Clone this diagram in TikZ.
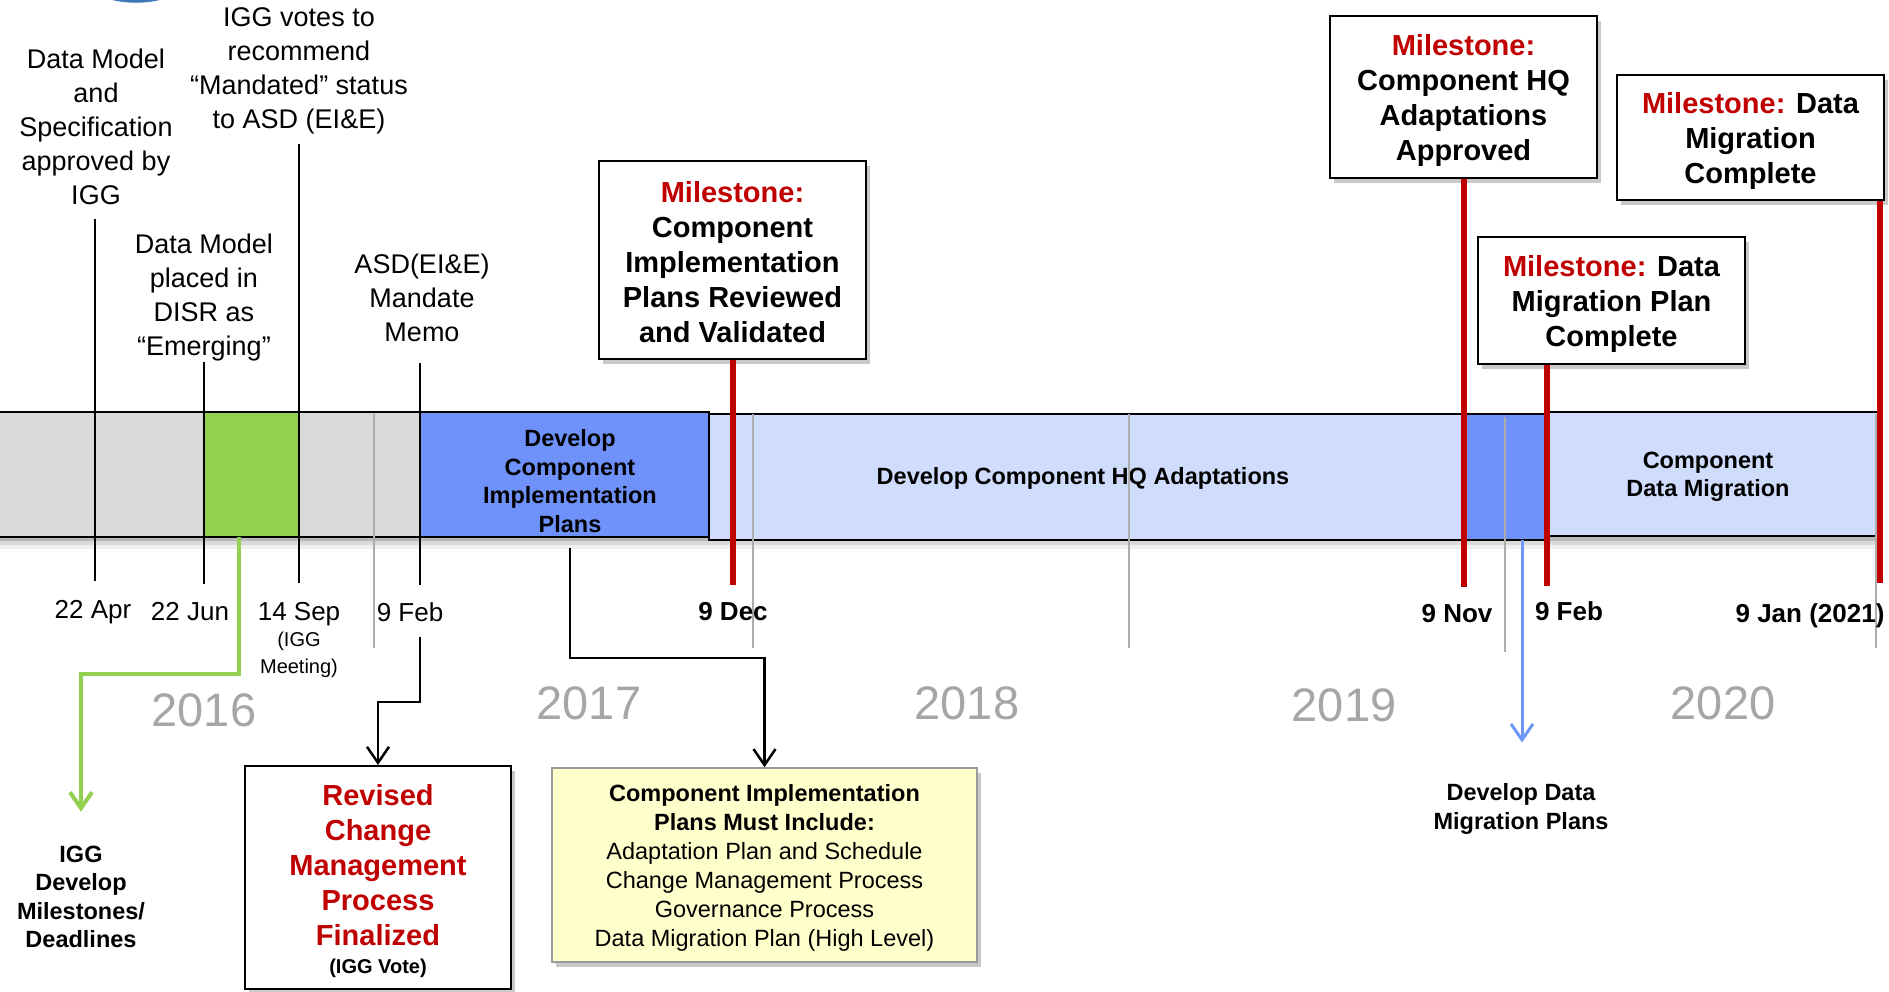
\documentclass[tikz,border=0pt]{standalone}
\usepackage{fontspec}
\setmainfont{Liberation Sans}
\usetikzlibrary{arrows.meta,shadows,calc}
\definecolor{msred}{HTML}{C00000}
\definecolor{barblue}{HTML}{6E91FA}
\definecolor{lightblue}{HTML}{CFDCFB}
\definecolor{greenc}{HTML}{92D050}
\definecolor{grayfill}{HTML}{D9D9D9}
\definecolor{yeargray}{HTML}{A6A6A6}
\definecolor{gridgray}{HTML}{ADADAD}
\definecolor{yelfill}{HTML}{FFFFCC}
\definecolor{yelborder}{HTML}{9A9A9A}
\definecolor{arrowblue}{HTML}{6F96FA}
\definecolor{logoblue}{HTML}{3C78B4}
\begin{document}
\begin{tikzpicture}[x=1pt,y=-1pt,
  toplbl/.style={align=center, inner sep=0pt, font=\fontsize{27}{34}\selectfont},
  datelbl/.style={inner sep=0pt, font=\fontsize{26}{31}\selectfont},
  datebold/.style={inner sep=0pt, font=\bfseries\fontsize{26}{31}\selectfont},
  barlbl/.style={align=center, inner sep=0pt, font=\bfseries\fontsize{23.5}{28.5}\selectfont},
  yearlbl/.style={inner sep=0pt, text=yeargray, font=\fontsize{47}{50}\selectfont},
  boxshadow/.style={drop shadow={shadow xshift=4pt, shadow yshift=-5pt, opacity=0.3, fill=black!70}},
  msbox/.style={draw=black, line width=2pt, fill=white, inner sep=0pt, boxshadow},
  mstext/.style={align=center, inner sep=0pt, font=\bfseries\fontsize{29}{35}\selectfont},
  segm/.style={inner sep=0pt, outer sep=0pt},
  tickln/.style={line width=2pt, black},
  gridln/.style={line width=1.8pt, gridgray},
  redln/.style={line width=6pt, msred},
  conn/.style={line width=2.5pt, -{Straight Barb[length=16pt,width=22pt]}}
]
\useasboundingbox (0,0) rectangle (1889,991);

% logo fragment
\fill[logoblue] (102,-4) .. controls (118,5) and (154,5) .. (170,-4) -- cycle;

% top labels
\node[toplbl] (lApr) at (96,127) {Data Model\\and\\Specification\\approved by\\IGG};
\node[toplbl] (lSep) at (299,71) {IGG votes to\\recommend\\“Mandated” status\\to ASD (EI\&E)};
\node[toplbl] (lJun) at (204,298) {Data Model\\placed in\\DISR as\\“Emerging”};
\node[toplbl] (lFeb) at (422,298) {ASD(EI\&E)\\Mandate\\Memo};

% bar shadow
\fill[black, opacity=0.28] (0,537) rectangle (1882,541);
\fill[black, opacity=0.15] (0,541) rectangle (1882,545);
\fill[black, opacity=0.06] (0,545) rectangle (1882,549);

% bar segments
\node[segm, fill=grayfill, minimum width=420pt, minimum height=125pt] (bGray) at (210,474.5) {};
\draw[line width=2pt] (bGray.north west) -- (bGray.north east);
\draw[line width=2pt] (bGray.south west) -- (bGray.south east);
\node[segm, fill=greenc, minimum width=96pt, minimum height=123pt] (bGreen) at (251,474.5) {};
\node[segm, fill=barblue, draw, line width=2pt, minimum width=289pt, minimum height=125pt] (bPlans) at (564.5,474.5) {};
\node[segm, fill=lightblue, draw, line width=2pt, minimum width=838pt, minimum height=126pt] (bHQ) at (1128,477) {};
\node[segm, fill=barblue, minimum width=79pt, minimum height=124pt] (bDMP) at (1506.5,477) {};
\node[segm, fill=lightblue, draw, line width=2pt, minimum width=335pt, minimum height=124pt] (bMig) at (1714.5,474) {};

\node[barlbl] (tPlans) at (570,481) {Develop\\Component\\Implementation\\Plans};
\node[barlbl] (tHQ) at (1083,478) {Develop Component HQ Adaptations};
\node[barlbl] (tMig) at (1708,477) {Component\\Data Migration};

% year grid lines
\coordinate (g1a) at (374,413); \coordinate (g1b) at (374,648);
\coordinate (g2a) at (753,414); \coordinate (g2b) at (753,648);
\coordinate (g3a) at (1129,414); \coordinate (g3b) at (1129,648);
\coordinate (g4a) at (1505,417); \coordinate (g4b) at (1505,652);
\coordinate (g5a) at (1876,414); \coordinate (g5b) at (1876,648);
\draw[gridln] (g1a) -- (g1b);
\draw[gridln] (g2a) -- (g2b);
\draw[gridln] (g3a) -- (g3b);
\draw[gridln] (g4a) -- (g4b);
\draw[gridln] (g5a) -- (g5b);

% ticks
\coordinate (tApr1) at (95,219); \coordinate (tApr2) at (95,581);
\coordinate (tJun1) at (204,362); \coordinate (tJun2) at (204,584);
\coordinate (tSep1) at (299,144); \coordinate (tSep2) at (299,583);
\coordinate (tFeb1) at (420,363); \coordinate (tFeb2) at (420,585);
\draw[tickln] (tApr1) -- (tApr2);
\draw[tickln] (tJun1) -- (tJun2);
\draw[tickln] (tSep1) -- (tSep2);
\draw[tickln] (tFeb1) -- (tFeb2);

% date labels
\node[datelbl] (dApr) at (93,612) {22 Apr};
\node[datelbl] (dJun) at (190,612) {22 Jun};
\node[datelbl] (dSep) at (299,614) {14 Sep};
\node[align=center, inner sep=0pt, font=\fontsize{20}{27}\selectfont] (dMeet) at (299,655) {(IGG\\Meeting)};
\node[datelbl] (dFeb) at (410,612) {9 Feb};
\node[datebold] (dDec) at (733,612) {9 Dec};
\node[datebold] (dNov) at (1457,614) {9 Nov};
\node[datebold] (dFeb2) at (1569,611) {9 Feb};
\node[datebold] (dJan) at (1810,616) {9 Jan (2021)};

% years
\node[yearlbl] (y16) at (204,710) {2016};
\node[yearlbl] (y17) at (589,703) {2017};
\node[yearlbl] (y18) at (967,703) {2018};
\node[yearlbl] (y19) at (1344,705) {2019};
\node[yearlbl] (y20) at (1723,703) {2020};

% milestone boxes
\node[msbox, minimum width=267pt, minimum height=198pt] (ms1) at (732.5,260) {};
\node[mstext] (ms1t) at ($(ms1.center)+(0,2)$)
  {\textcolor{msred}{Milestone:}\\Component\\Implementation\\Plans Reviewed\\and Validated};
\node[msbox, minimum width=267pt, minimum height=162pt] (ms2) at (1463.5,97) {};
\node[mstext] (ms2t) at ($(ms2.center)+(0,3)$)
  {\textcolor{msred}{Milestone:}\\Component HQ\\Adaptations\\Approved};
\node[msbox, minimum width=267pt, minimum height=127pt] (ms3) at (1611.5,300.5) {};
\node[mstext] (ms3t) at ($(ms3.center)+(0,3)$)
  {\textcolor{msred}{Milestone:} Data\\Migration Plan\\Complete};
\node[msbox, minimum width=267pt, minimum height=125pt] (ms4) at (1750.5,137.5) {};
\node[mstext] (ms4t) at ($(ms4.center)+(0,3)$)
  {\textcolor{msred}{Milestone:} Data\\Migration\\Complete};

\coordinate (r1) at (732.5,585);
\coordinate (r2) at (1463.5,587);
\coordinate (r3) at (1547,586);
\coordinate (r4) at (1880,583);
\draw[redln] (ms1.south) -- (r1);
\draw[redln] (ms2.south) -- (r2);
\draw[redln] (ms3.south -| r3) -- (r3);
\draw[redln] (ms4.south -| r4) -- (r4);

% bottom boxes and labels
\node[barlbl] (lIGG) at (81,897) {IGG\\Develop\\Milestones/\\Deadlines};
\node[barlbl] (lDDM) at (1521,809) {Develop Data\\Migration Plans};
\node[msbox, minimum width=266pt, minimum height=223pt] (rev) at (378,877.5) {};
\node[mstext, text=msred] (revt) at ($(rev.center)+(0,4)$)
  {Revised\\Change\\Management\\Process\\Finalized\\[-7pt]{\color{black}\fontsize{20}{24}\selectfont(IGG Vote)}};
\node[draw=yelborder, fill=yelfill, line width=1.5pt, boxshadow, minimum width=425pt, minimum height=194pt, inner sep=0pt] (yel) at (764.5,865) {};
\node[align=center, inner sep=0pt, font=\fontsize{23.5}{29}\selectfont] (yelt) at ($(yel.center)+(0,3)$)
  {\textbf{Component Implementation}\\\textbf{Plans Must Include:}\\Adaptation Plan and Schedule\\Change Management Process\\Governance Process\\Data Migration Plan (High Level)};

% connectors
\coordinate (gS) at (239,537);
\draw[conn, greenc, line width=4pt, shorten >=34pt] (gS) -- ++(0,137) -| (lIGG.north);
\coordinate (fS) at (420,637);
\draw[conn] (fS) -- ++(0,65) -| (rev.north);
\coordinate (pS) at (570,548);
\draw[conn] (pS) -- ++(0,110) -| (yel.north);
\coordinate (bS) at (1522,540);
\draw[conn, arrowblue, line width=3pt, shorten >=41pt] (bS) -- (bS |- lDDM.north);

\end{tikzpicture}
\end{document}
